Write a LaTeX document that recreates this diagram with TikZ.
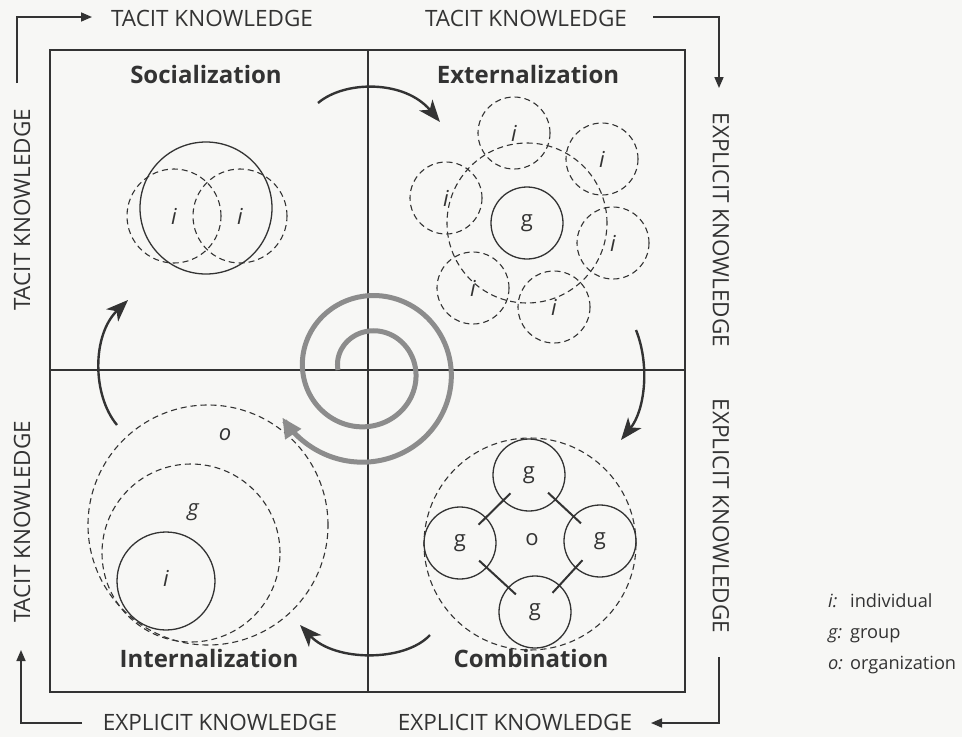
\documentclass[tikz,border=0pt]{standalone}
\usepackage{fontspec}
\setmainfont{Open Sans}
\usetikzlibrary{arrows.meta,calc}
\definecolor{ink}{HTML}{333333}
\definecolor{spir}{HTML}{8C8C8C}
\definecolor{paper}{HTML}{F7F7F5}
\tikzset{
  axis/.style={font=\fontsize{22.5}{26}\selectfont, text=ink, inner sep=0},
  title/.style={font=\fontsize{24}{28}\selectfont\bfseries, text=ink, inner sep=0, anchor=base},
  lab/.style={font=\fontsize{22}{26}\selectfont\itshape, text=ink, inner sep=0},
  labu/.style={font=\fontsize{22}{26}\selectfont, text=ink, inner sep=0},
  solidc/.style={circle, draw=ink, line width=1.3pt, inner sep=0, minimum size=#1},
  dashc/.style={circle, draw=ink, line width=1.1pt, dash pattern=on 6pt off 4pt, inner sep=0, minimum size=#1},
  frame/.style={draw=ink, line width=1.4pt},
  flow/.style={draw=ink, line width=1.6pt, -{Triangle[length=11pt,width=9pt]}},
  cyc/.style={draw=ink, line width=2.4pt, -{Stealth[length=22pt,width=17pt,inset=6pt]}},
  link/.style={draw=ink, line width=2pt, shorten <=26pt, shorten >=26pt},
  leg/.style={font=\fontsize{18.2}{22}\selectfont, text=ink, inner sep=0, anchor=base west},
  legi/.style={font=\fontsize{18.2}{22}\selectfont\itshape, text=ink, inner sep=0, anchor=base west},
}
\begin{document}
\begin{tikzpicture}[x=1pt,y=-1pt]
\fill[paper] (0,0) rectangle (962,737);
\useasboundingbox (0,0) rectangle (962,737);

% frame
\coordinate (tl) at (50,50);
\coordinate (br) at (685,692);
\coordinate (vt) at (368,50);
\coordinate (vb) at (368,692);
\coordinate (hl) at (50,370);
\coordinate (hr) at (685,370);
\draw[frame] (tl) rectangle (br);
\draw[ink, line width=1.2pt] (vt) -- (vb);
\draw[ink, line width=1.2pt] (hl) -- (hr);

% outer axis labels
\node[axis] (tk1) at (212,18) {TACIT KNOWLEDGE};
\node[axis] (tk2) at (526,18) {TACIT KNOWLEDGE};
\node[axis, rotate=-90] (ex1) at (721,230) {EXPLICIT KNOWLEDGE};
\node[axis, rotate=-90] (ex2) at (721,516) {EXPLICIT KNOWLEDGE};
\node[axis] (ex3) at (515,722) {EXPLICIT KNOWLEDGE};
\node[axis] (ex4) at (220,722) {EXPLICIT KNOWLEDGE};
\node[axis, rotate=90] (tk3) at (22,522) {TACIT KNOWLEDGE};
\node[axis, rotate=90] (tk4) at (22,210) {TACIT KNOWLEDGE};

% corner arrows
\coordinate (a1s) at (17,83);
\coordinate (a1c) at (17,17);
\coordinate (a1e) at (92,17);
\draw[flow] (a1s) -- (a1c) -- (a1e);
\coordinate (a2s) at (653,17);
\coordinate (a2c) at (719,17);
\coordinate (a2e) at (719,88);
\draw[flow] (a2s) -- (a2c) -- (a2e);
\coordinate (a3s) at (719,657);
\coordinate (a3c) at (719,723);
\coordinate (a3e) at (651,723);
\draw[flow] (a3s) -- (a3c) -- (a3e);
\coordinate (a4s) at (82,723);
\coordinate (a4c) at (21,723);
\coordinate (a4e) at (21,650);
\draw[flow] (a4s) -- (a4c) -- (a4e);

% titles
\node[title] (soc) at (206,83) {Socialization};
\node[title] (ext) at (528,83) {Externalization};
\node[title] (int) at (209,667) {Internalization};
\node[title] (com) at (531,667) {Combination};

% socialization
\node[solidc=132] (sg) at (206,208) {};
\node[dashc=94, lab] (s1) at (174,216) {i};
\node[dashc=94, lab] (s2) at (240,216) {i};

% externalization
\node[dashc=160] (eo) at (527,223) {};
\node[solidc=72, labu] (eg) at (527,223) {g};
\node[dashc=72, lab] (e1) at (514,133) {i};
\node[dashc=72, lab] (e2) at (602,159) {i};
\node[dashc=72, lab] (e3) at (446,198) {i};
\node[dashc=72, lab] (e4) at (613,243) {i};
\node[dashc=72, lab] (e5) at (473,288) {i};
\node[dashc=72, lab] (e6) at (554,307) {i};

% internalization
\node[dashc=240] (io) at (208,525) {};
\node[dashc=178] (ig) at (191,553) {};
\node[solidc=98] (ii) at (166,581) {};
\node[lab] (iol) at (225,435) {o};
\node[lab] (igl) at (193,512) {g};
\node[lab] (iil) at (166,578) {i};

% combination
\node[dashc=212] (co) at (530,544) {};
\node[labu] (col) at (532,540) {o};
\node[solidc=72, labu] (gt) at (529,475) {g};
\node[solidc=72, labu] (gl) at (460,543) {g};
\node[solidc=72, labu] (gr) at (600,541) {g};
\node[solidc=72, labu] (gb) at (535,612) {g};
\draw[link] (gt.center) -- (gl.center);
\draw[link] (gt.center) -- (gr.center);
\draw[link] (gl.center) -- (gb.center);
\draw[link] (gr.center) -- (gb.center);

% spiral
\draw[spir, line width=5pt, -{Triangle[length=20pt,width=18pt]}]
  plot[domain=180:871, samples=220, smooth]
  ({368+(30+0.0984*(\x-180))*cos(\x)}, {370+(30+0.0984*(\x-180))*sin(\x)});

% cycle arrows
\coordinate (c1a) at (318,103);
\coordinate (c1b) at (440,122);
\draw[cyc] (c1a) .. controls (345,80) and (405,80) .. (c1b);
\coordinate (c2a) at (636,330);
\coordinate (c2b) at (621,440);
\draw[cyc] (c2a) .. controls (650,365) and (645,410) .. (c2b);
\coordinate (c3a) at (430,635);
\coordinate (c3b) at (300,625);
\draw[cyc] (c3a) .. controls (405,662) and (335,662) .. (c3b);
\coordinate (c4a) at (117,425);
\coordinate (c4b) at (128,300);
\draw[cyc] (c4a) .. controls (92,395) and (92,335) .. (c4b);

% legend
\node[legi] (li) at (828,607) {i:};
\node[leg] (lit) at (850,607) {individual};
\node[legi] (lg) at (828,638) {g:};
\node[leg] (lgt) at (850,638) {group};
\node[legi] (lo) at (828,669) {o:};
\node[leg] (lot) at (850,669) {organization};
\end{tikzpicture}
\end{document}
